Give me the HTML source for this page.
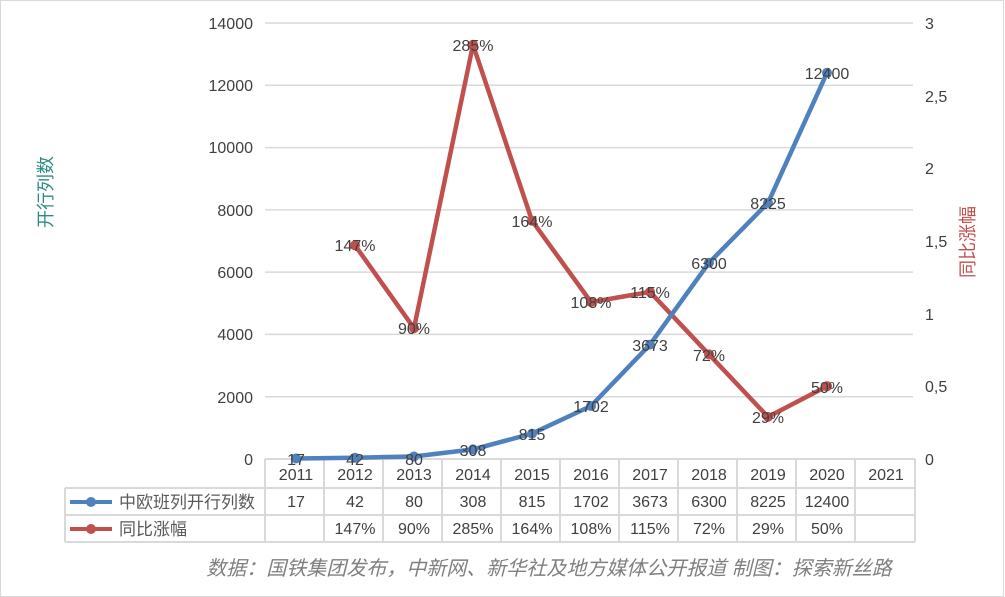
<!DOCTYPE html>
<html><head><meta charset="utf-8"><style>
body{margin:0;background:#fff}
svg{display:block;font-family:"Liberation Sans","Noto Sans CJK SC",sans-serif}
</style></head><body>
<svg width="1005" height="597" viewBox="0 0 1005 597">
<rect x="0.5" y="0.5" width="1003" height="596" fill="#fff" stroke="#d9d9d9"/>
<g stroke="#d9d9d9" stroke-width="1.5">
<line x1="265" y1="23" x2="913" y2="23"/><line x1="265" y1="85.3" x2="913" y2="85.3"/>
<line x1="265" y1="147.6" x2="913" y2="147.6"/><line x1="265" y1="209.9" x2="913" y2="209.9"/>
<line x1="265" y1="272.1" x2="913" y2="272.1"/><line x1="265" y1="334.4" x2="913" y2="334.4"/>
<line x1="265" y1="396.7" x2="913" y2="396.7"/>
</g>
<g stroke="#d9d9d9" stroke-width="2" fill="none">
<line x1="265" y1="459" x2="915" y2="459"/>
<line x1="65" y1="488" x2="915" y2="488"/><line x1="65" y1="515" x2="915" y2="515"/><line x1="65" y1="542" x2="915" y2="542"/>
<line x1="65" y1="488" x2="65" y2="542"/>
<line x1="265" y1="459" x2="265" y2="542"/><line x1="324" y1="459" x2="324" y2="542"/><line x1="383" y1="459" x2="383" y2="542"/><line x1="442" y1="459" x2="442" y2="542"/><line x1="501" y1="459" x2="501" y2="542"/><line x1="560" y1="459" x2="560" y2="542"/><line x1="619" y1="459" x2="619" y2="542"/><line x1="678" y1="459" x2="678" y2="542"/><line x1="737" y1="459" x2="737" y2="542"/><line x1="796" y1="459" x2="796" y2="542"/><line x1="855" y1="459" x2="855" y2="542"/><line x1="915" y1="459" x2="915" y2="542"/>
</g>
<g font-size="16" fill="#404040" text-anchor="end">
<text x="253" y="29">14000</text><text x="253" y="91">12000</text><text x="253" y="153">10000</text><text x="253" y="216">8000</text><text x="253" y="278">6000</text><text x="253" y="340">4000</text><text x="253" y="403">2000</text><text x="253" y="465">0</text>
</g>
<g font-size="16" fill="#404040">
<text x="925" y="29">3</text><text x="925" y="102">2,5</text><text x="925" y="174">2</text><text x="925" y="247">1,5</text><text x="925" y="320">1</text><text x="925" y="392">0,5</text><text x="925" y="465">0</text>
</g>
<text transform="translate(52,192) rotate(-90)" font-size="18" fill="#2e8b83" text-anchor="middle">开行列数</text>
<text transform="translate(974,242) rotate(-90)" font-size="18" fill="#c0504d" text-anchor="middle">同比涨幅</text>
<g font-size="16" fill="#404040" text-anchor="middle">
<text x="296" y="480">2011</text><text x="355" y="480">2012</text><text x="414" y="480">2013</text><text x="473" y="480">2014</text><text x="532" y="480">2015</text><text x="591" y="480">2016</text><text x="650" y="480">2017</text><text x="709" y="480">2018</text><text x="768" y="480">2019</text><text x="827" y="480">2020</text><text x="886" y="480">2021</text>
<text x="296" y="507">17</text><text x="355" y="507">42</text><text x="414" y="507">80</text><text x="473" y="507">308</text><text x="532" y="507">815</text><text x="591" y="507">1702</text><text x="650" y="507">3673</text><text x="709" y="507">6300</text><text x="768" y="507">8225</text><text x="827" y="507">12400</text>
<text x="355" y="534">147%</text><text x="414" y="534">90%</text><text x="473" y="534">285%</text><text x="532" y="534">164%</text><text x="591" y="534">108%</text><text x="650" y="534">115%</text><text x="709" y="534">72%</text><text x="768" y="534">29%</text><text x="827" y="534">50%</text>
</g>
<line x1="70" y1="502" x2="112" y2="502" stroke="#4f81bd" stroke-width="4"/><circle cx="91" cy="502" r="5" fill="#4f81bd"/>
<line x1="70" y1="529" x2="112" y2="529" stroke="#c0504d" stroke-width="4"/><circle cx="91" cy="529" r="5" fill="#c0504d"/>
<text x="119" y="508" font-size="17" fill="#595959">中欧班列开行列数</text>
<text x="119" y="535" font-size="17" fill="#595959">同比涨幅</text>
<polyline fill="none" stroke="#c0504d" stroke-width="4.5" stroke-linejoin="round" points="355,245.3 414,328.2 473,44.8 532,220.7 591,302.1 650,291.9 709,354.4 768,416.9 827,386.3"/>
<polyline fill="none" stroke="#4f81bd" stroke-width="4.5" stroke-linejoin="round" points="296,458.5 355,457.7 414,456.5 473,449.4 532,433.6 591,406 650,344.6 709,262.8 768,202.9 827,72.8"/>
<g fill="#c0504d"><circle cx="355" cy="245.3" r="5"/><circle cx="414" cy="328.2" r="5"/><circle cx="473" cy="44.8" r="5"/><circle cx="532" cy="220.7" r="5"/><circle cx="591" cy="302.1" r="5"/><circle cx="650" cy="291.9" r="5"/><circle cx="709" cy="354.4" r="5"/><circle cx="768" cy="416.9" r="5"/><circle cx="827" cy="386.3" r="5"/></g>
<g fill="#4f81bd"><circle cx="296" cy="458.5" r="5"/><circle cx="355" cy="457.7" r="5"/><circle cx="414" cy="456.5" r="5"/><circle cx="473" cy="449.4" r="5"/><circle cx="532" cy="433.6" r="5"/><circle cx="591" cy="406" r="5"/><circle cx="650" cy="344.6" r="5"/><circle cx="709" cy="262.8" r="5"/><circle cx="768" cy="202.9" r="5"/><circle cx="827" cy="72.8" r="5"/></g>
<g font-size="16" fill="#404040" text-anchor="middle">
<text x="355" y="251">147%</text><text x="414" y="334">90%</text><text x="473" y="51">285%</text><text x="532" y="227">164%</text><text x="591" y="308">108%</text><text x="650" y="298">115%</text><text x="709" y="361">72%</text><text x="768" y="423">29%</text><text x="827" y="393">50%</text>
<text x="296" y="465">17</text><text x="355" y="465">42</text><text x="414" y="465">80</text><text x="473" y="456">308</text><text x="532" y="440">815</text><text x="591" y="412">1702</text><text x="650" y="351">3673</text><text x="709" y="269">6300</text><text x="768" y="209">8225</text><text x="827" y="79">12400</text>
</g>
<text x="549" y="575" font-size="20" font-style="italic" fill="#7f7f7f" text-anchor="middle">数据：国铁集团发布，中新网、新华社及地方媒体公开报道 制图：探索新丝路</text>
</svg>
</body></html>
